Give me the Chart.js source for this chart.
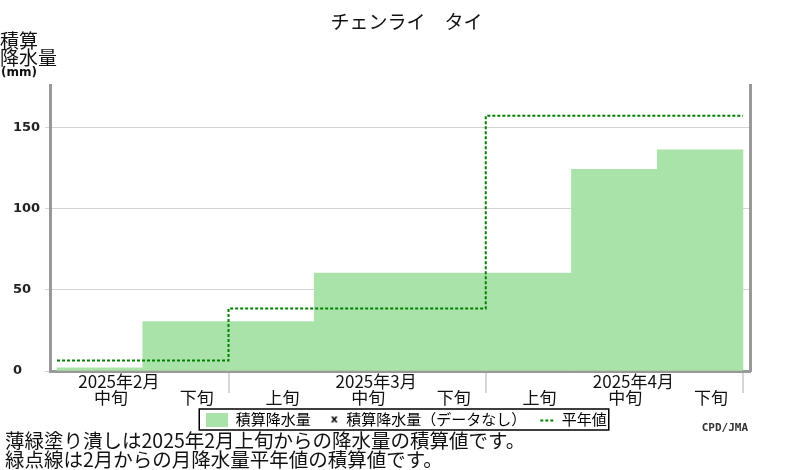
<!DOCTYPE html>
<html lang="ja">
<head>
<meta charset="utf-8">
<title>チェンライ タイ</title>
<script src="https://cdn.jsdelivr.net/npm/chart.js@4.4.1/dist/chart.umd.min.js"></script>
<style>
  html, body { margin: 0; padding: 0; background: #fff; }
  #wrap { position: relative; width: 800px; height: 470px; }
</style>
</head>
<body>
<div id="wrap"><canvas id="chart"></canvas></div>
<script>
// data
var titleText = 'チェンライ　タイ';
var dekads = ['中旬', '下旬', '上旬', '中旬', '下旬', '上旬', '中旬', '下旬'];
var months = ['2025年2月', '2025年3月', '2025年4月'];
var accumRain = [2, 30.5, 30.5, 60.5, 60.5, 60.5, 124.5, 136.5];
var normalAccum = [6.5, 38.5, 157.5];
var yMax = 176;
var yStep = 50;
var legendTexts = ['積算降水量', '積算降水量（データなし）', '平年値'];
var yTitle = ['積算', '降水量'];
var yUnit = '(mm)';
var notes = ['薄緑塗り潰しは2025年2月上旬からの降水量の積算値です。', '緑点線は2月からの月降水量平年値の積算値です。'];
var credit = 'CPD/JMA';

var fillColor = '#aae3aa';
var normalColor = '#008000';
var cjk = '"Noto Sans CJK JP", "Noto Sans", sans-serif';

// where each month starts inside the dekad list
var monthStarts = [0];
dekads.forEach(function(d, i) { if (d === '上旬') monthStarts.push(i); });
var monthEdges = monthStarts.slice(1).concat([dekads.length]);

// month axis: a label tick at each 中旬, a bare tick at each month end
var monthTicks = [];
var monthTickLabels = [];
var k = 0;
dekads.forEach(function(d, i) {
  if (d === '中旬') { monthTicks.push(i + 0.5); monthTickLabels.push(months[k]); k++; }
  if (monthEdges.indexOf(i + 1) >= 0) { monthTicks.push(i + 1); monthTickLabels.push(''); }
});

var barPoints = accumRain.map(function(v, i) { return {x: i + 0.5, y: v}; });
var normalPoints = monthStarts.map(function(s, j) { return {x: s, y: normalAccum[j]}; });
normalPoints.push({x: dekads.length, y: normalAccum[normalAccum.length - 1]});

var xMin = -0.082;
var xMax = dekads.length + 0.082;

function makeIcon(kind) {
  var c = document.createElement('canvas');
  c.width = 22; c.height = 14;
  var g = c.getContext('2d');
  if (kind === 'box') {
    g.fillStyle = fillColor;
    g.fillRect(0, 0, 22, 14);
  } else if (kind === 'x') {
    g.fillStyle = '#000';
    g.font = 'bold 11px "DejaVu Sans"';
    g.textAlign = 'right';
    g.textBaseline = 'middle';
    g.fillText('x', 21, 7);
  } else {
    g.strokeStyle = normalColor;
    g.lineWidth = 2;
    g.setLineDash([3, 2]);
    g.beginPath();
    g.moveTo(8, 8);
    g.lineTo(22, 8);
    g.stroke();
  }
  return c;
}
var icons = [makeIcon('box'), makeIcon('x'), makeIcon('line')];

var extrasPlugin = {
  id: 'extras',
  afterDraw: function(chart) {
    var ctx = chart.ctx;
    ctx.save();
    // frame round the legend
    var hb = chart.legend.legendHitBoxes;
    if (hb && hb.length) {
      var first = hb[0], last = hb[hb.length - 1];
      ctx.strokeStyle = '#000';
      ctx.lineWidth = 1.5;
      ctx.strokeRect(first.left - 7, first.top - 3, last.left + last.width + 9 - first.left, first.height + 6);
    }
    ctx.fillStyle = '#111';
    ctx.textAlign = 'left';
    ctx.textBaseline = 'middle';
    ctx.font = '19px ' + cjk;
    ctx.fillText(yTitle[0], 0, 41);
    ctx.fillText(yTitle[1], 0, 58);
    ctx.font = 'bold 12px "DejaVu Sans"';
    ctx.fillText(yUnit, 1, 73);
    ctx.font = '19.5px ' + cjk;
    ctx.fillText(notes[0], 5, 441);
    ctx.fillText(notes[1], 5, 460);
    ctx.font = 'bold 11px "DejaVu Sans Mono"';
    ctx.fillStyle = '#333';
    ctx.textAlign = 'right';
    ctx.fillText(credit, 748, 428);
    ctx.restore();
  }
};

Chart.defaults.font.family = cjk;
Chart.defaults.color = '#111';

var chart = new Chart(document.getElementById('chart'), {
  type: 'bar',
  data: {
    datasets: [{
      type: 'bar',
      label: legendTexts[0],
      data: barPoints,
      xAxisID: 'xd',
      yAxisID: 'y',
      backgroundColor: fillColor,
      borderWidth: 0,
      barPercentage: 1,
      categoryPercentage: 1,
      order: 2
    }, {
      type: 'line',
      label: legendTexts[1],
      data: [],
      xAxisID: 'xd',
      yAxisID: 'y',
      order: 3
    }, {
      type: 'line',
      label: legendTexts[2],
      data: normalPoints,
      xAxisID: 'xd',
      yAxisID: 'y',
      stepped: true,
      borderColor: normalColor,
      borderWidth: 2,
      borderDash: [3, 2],
      pointRadius: 0,
      fill: false,
      order: 1
    }]
  },
  options: {
    responsive: true,
    maintainAspectRatio: false,
    animation: false,
    layout: { padding: { left: 13, right: 0, top: 0, bottom: 33 } },
    scales: {
      x: {
        type: 'linear',
        position: 'bottom',
        weight: 0,
        min: xMin,
        max: xMax,
        offset: false,
        afterBuildTicks: function(scale) {
          scale.ticks = monthTicks.map(function(v) { return {value: v}; });
        },
        // month labels sit over the long tick marks, so the band is kept short
        afterFit: function(scale) { scale.height = 19; },
        ticks: {
          autoSkip: false,
          maxRotation: 0,
          padding: -20,
          labelOffset: 19,
          font: { size: 17, lineHeight: 1 },
          color: '#111',
          callback: function(value, index) { return monthTickLabels[index]; }
        },
        grid: {
          offset: false,
          drawOnChartArea: false,
          tickLength: 22,
          lineWidth: 2,
          color: function(ctx) {
            return ctx.tick && monthEdges.indexOf(ctx.tick.value) >= 0 ? '#d6d6d6' : 'rgba(0,0,0,0)';
          }
        },
        border: { display: true, color: '#999', width: 3 }
      },
      xd: {
        type: 'linear',
        position: 'bottom',
        weight: 1,
        min: xMin,
        max: xMax,
        offset: false,
        afterBuildTicks: function(scale) {
          scale.ticks = dekads.map(function(d, i) { return {value: i + 0.5}; });
        },
        afterFit: function(scale) { scale.height = 16; },
        ticks: {
          autoSkip: false,
          maxRotation: 0,
          padding: -1,
          labelOffset: 11,
          font: { size: 17, lineHeight: 1 },
          color: '#111',
          callback: function(value, index) { return dekads[index]; }
        },
        grid: { display: false, drawTicks: false, offset: false },
        border: { display: false }
      },
      y: {
        type: 'linear',
        position: 'left',
        min: 0,
        max: yMax,
        afterFit: function(scale) { scale.width = 37; },
        afterBuildTicks: function(scale) {
          scale.ticks = scale.ticks.filter(function(t) { return t.value % yStep === 0; });
        },
        ticks: {
          stepSize: yStep,
          includeBounds: false,
          crossAlign: 'far',
          color: '#222',
          font: { family: '"DejaVu Sans"', size: 13, weight: 'bold' }
        },
        grid: { color: '#d3d3d3', lineWidth: 1, tickLength: 5 },
        border: { display: true, color: '#999', width: 3 }
      },
      yr: {
        type: 'linear',
        position: 'right',
        afterFit: function(scale) { scale.width = 50; },
        ticks: { display: false },
        grid: { display: false, drawTicks: false },
        border: { display: true, color: '#999', width: 3 }
      }
    },
    plugins: {
      title: {
        display: true,
        text: titleText,
        color: '#111',
        font: { size: 19, weight: 'normal', lineHeight: 1.2 },
        padding: { top: 10, bottom: 53 }
      },
      legend: {
        display: true,
        position: 'bottom',
        onClick: null,
        labels: {
          usePointStyle: true,
          pointStyleWidth: 22,
          padding: 6,
          color: '#000',
          font: { size: 15 },
          generateLabels: function() {
            return legendTexts.map(function(t, i) {
              return {
                text: t,
                pointStyle: icons[i],
                datasetIndex: i,
                hidden: false,
                fontColor: '#000',
                fillStyle: 'rgba(0,0,0,0)',
                strokeStyle: 'rgba(0,0,0,0)',
                lineWidth: 0
              };
            });
          }
        }
      },
      tooltip: { enabled: false }
    }
  },
  plugins: [extrasPlugin]
});
</script>
</body>
</html>
